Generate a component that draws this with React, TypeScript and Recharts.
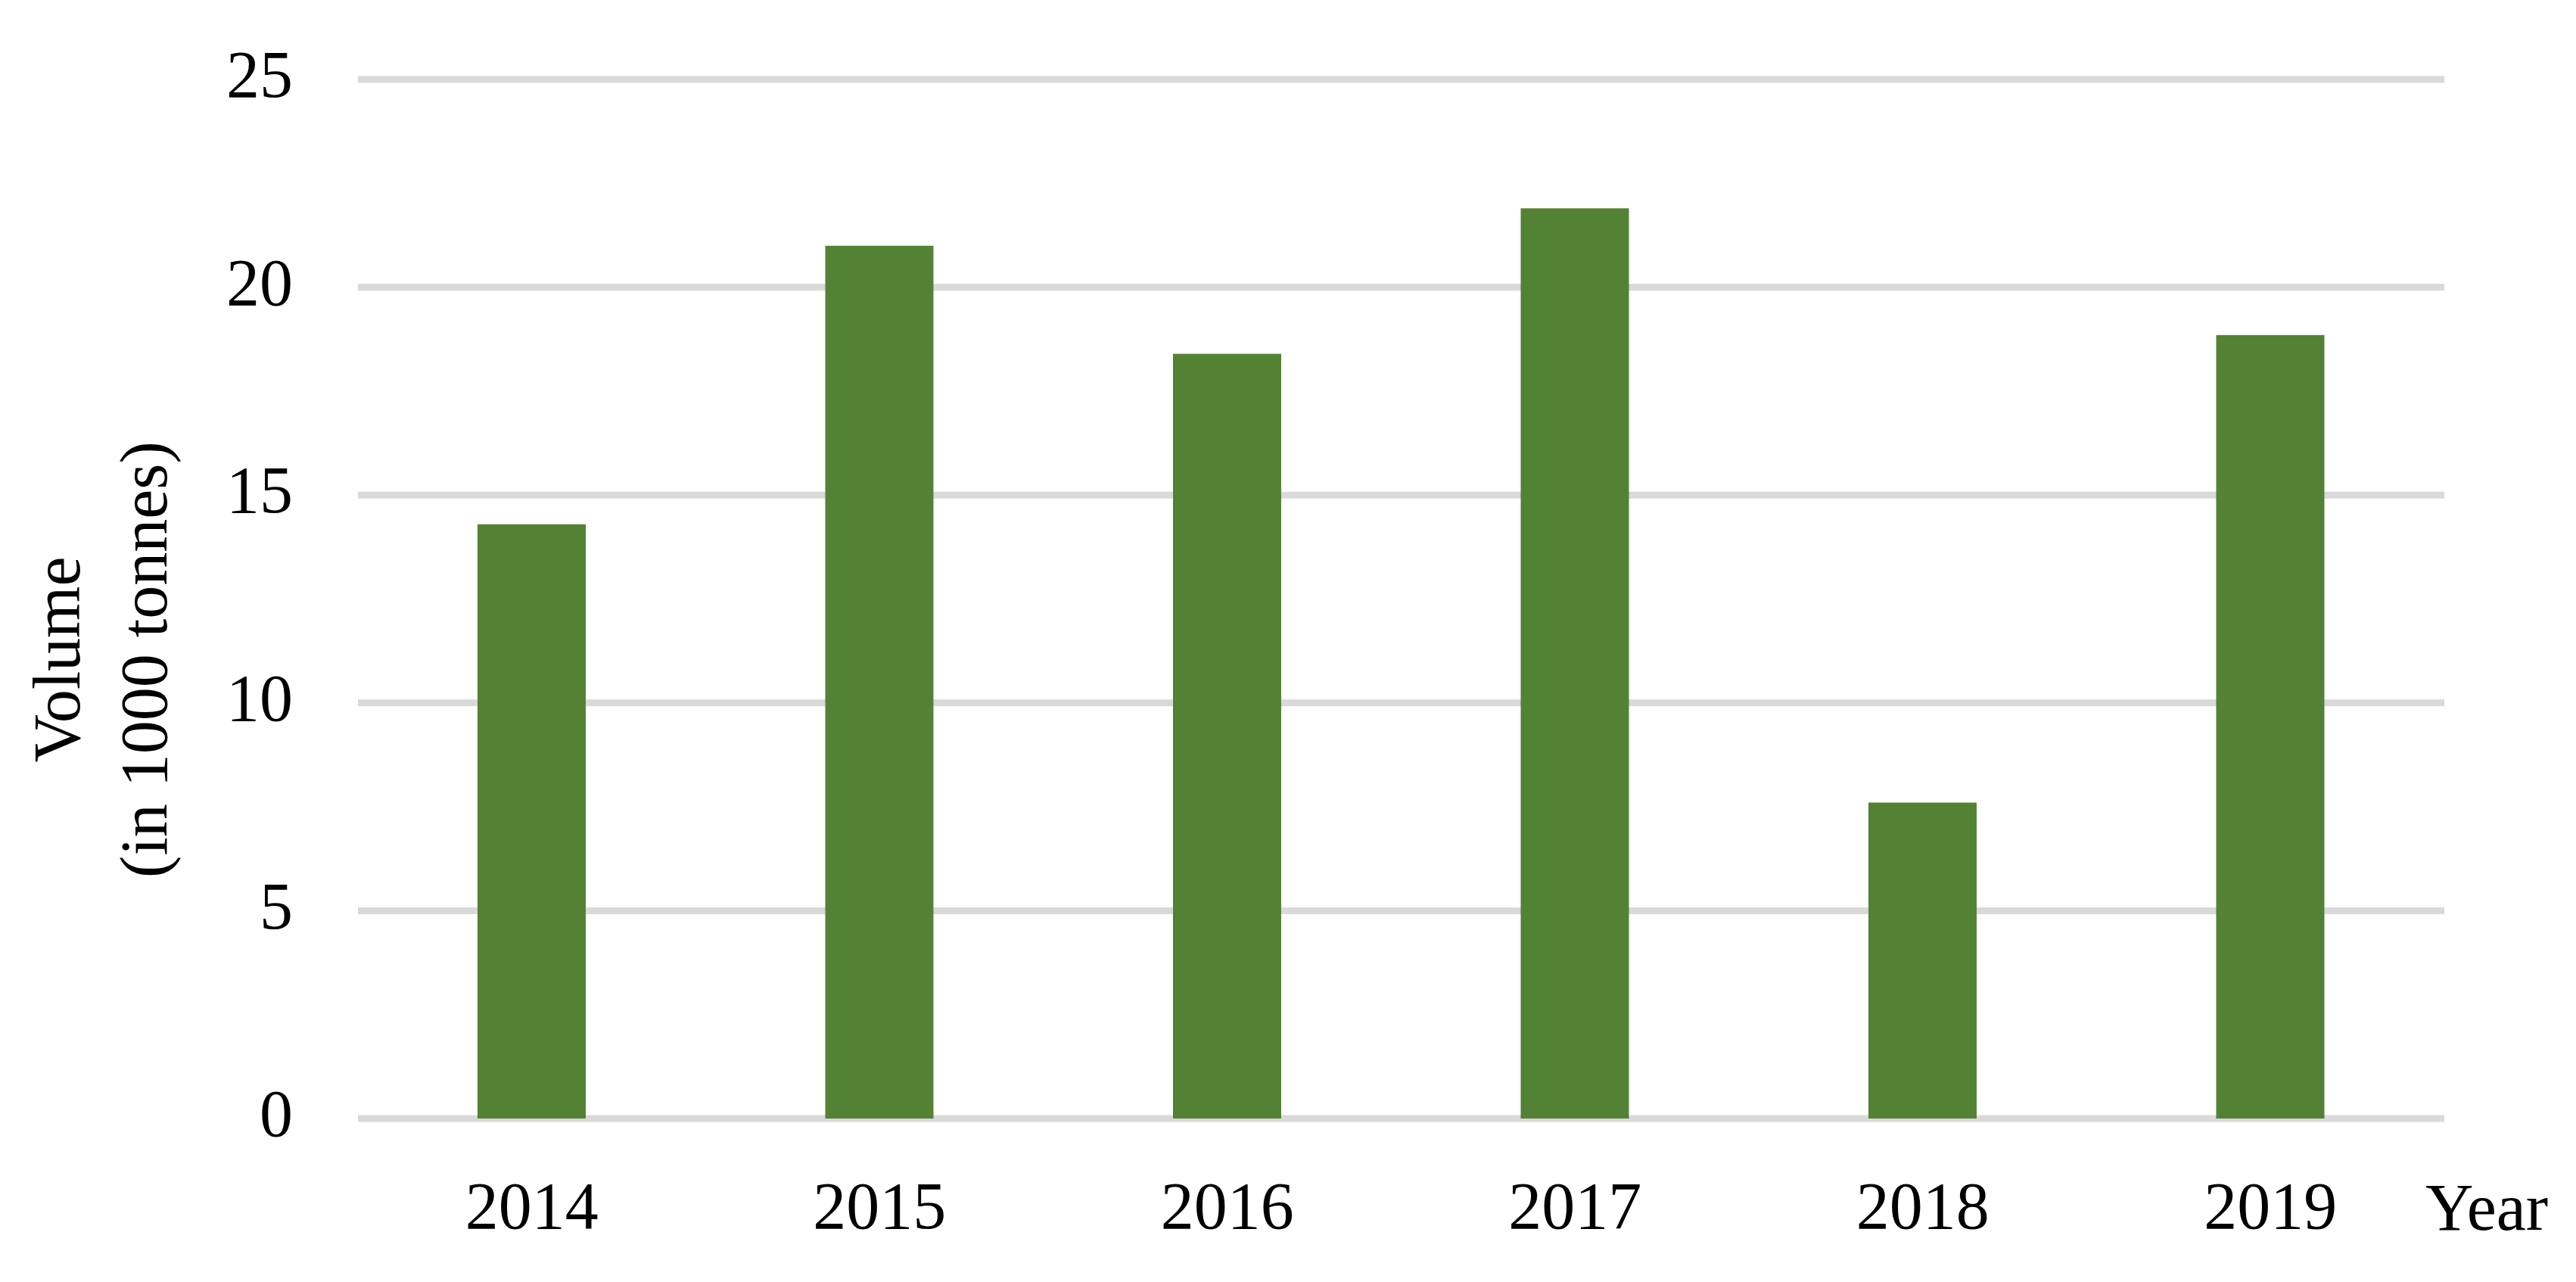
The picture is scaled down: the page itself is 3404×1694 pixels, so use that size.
import React from 'react';
import { BarChart, Bar, XAxis, YAxis, CartesianGrid, Label } from 'recharts';

const years = ['2014', '2015', '2016', '2017', '2018', '2019'];
const volumes = [14.3, 21.0, 18.4, 21.9, 7.6, 18.85];
const yTicks = [0, 5, 10, 15, 20, 25];

const chartData = years.map((year, i) => ({ year, volume: volumes[i] }));

const FONT = '"Liberation Serif", "Times New Roman", serif';

const YAxisTitle = ({ viewBox }: any) => {
  const cy = viewBox.y + viewBox.height / 2 + 80;
  return (
    <g fontFamily={FONT} fontSize={88} fill="#000">
      <text transform={`translate(105, ${cy}) rotate(-90)`} textAnchor="middle">Volume</text>
      <text transform={`translate(220, ${cy}) rotate(-90)`} textAnchor="middle">(in 1000 tonnes)</text>
    </g>
  );
};

const XAxisTitle = ({ viewBox }: any) => (
  <text x={viewBox.x + viewBox.width - 25} y={viewBox.y + 147} fontFamily={FONT} fontSize={88} fill="#000">
    Year
  </text>
);

export default function App() {
  return (
    <div style={{ width: 3404, height: 1694, background: '#fff' }}>
      <style>{'body { margin: 0; }'}</style>
      <BarChart
        width={3404}
        height={1694}
        data={chartData}
        margin={{ top: 105, right: 174, bottom: 0, left: 0 }}
      >
        <CartesianGrid vertical={false} stroke="#d9d9d9" strokeWidth={9} />
        <XAxis
          dataKey="year"
          height={216}
          axisLine={false}
          tickLine={false}
          tickSize={0}
          tickMargin={83}
          tick={{ fill: '#000', fontSize: 88, fontFamily: FONT }}
        >
          <Label content={XAxisTitle} />
        </XAxis>
        <YAxis
          width={473}
          domain={[0, 25]}
          ticks={yTicks}
          axisLine={false}
          tickLine={false}
          tickSize={0}
          tickMargin={86}
          tick={{ fill: '#000', fontSize: 88, fontFamily: FONT, dy: -8 }}
        >
          <Label content={YAxisTitle} />
        </YAxis>
        <Bar dataKey="volume" fill="#548235" barSize={143} isAnimationActive={false} />
      </BarChart>
    </div>
  );
}
